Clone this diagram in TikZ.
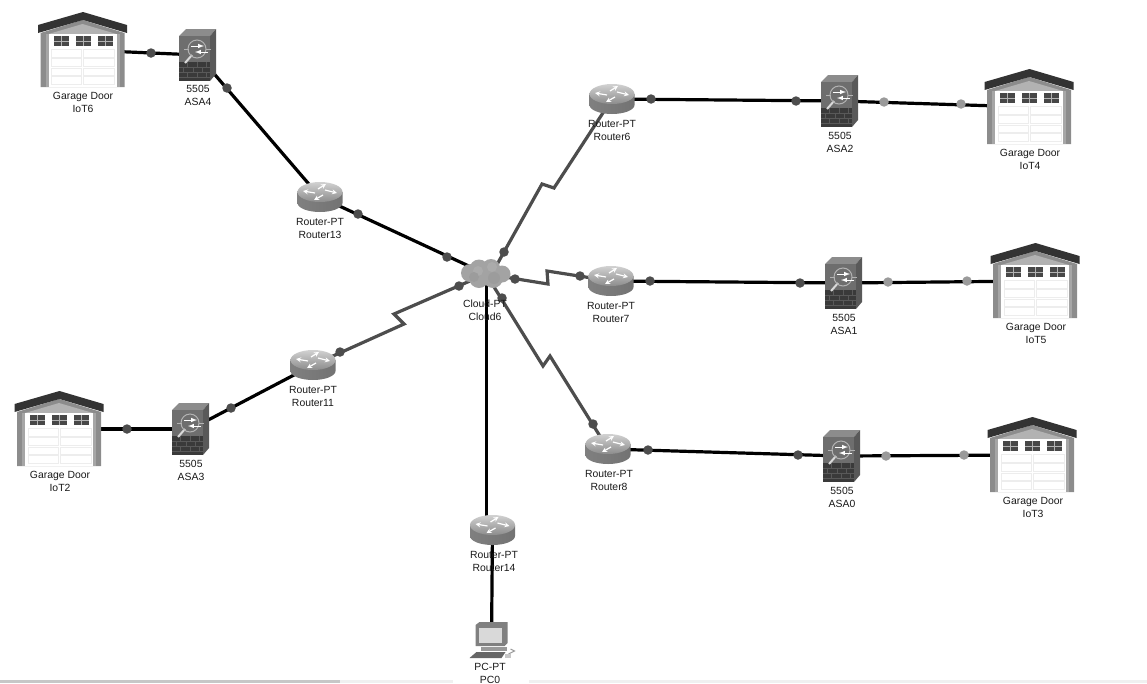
\documentclass[tikz,border=0pt]{standalone}
\usepackage{fontspec}
\setmainfont{Liberation Sans}
\usepackage{tikz}
\usetikzlibrary{positioning, calc}

\definecolor{linkdark}{HTML}{4D4D4D}
\definecolor{dotlight}{HTML}{9A9A9A}
\definecolor{roofdark}{HTML}{333333}
\definecolor{wallgray}{HTML}{8C8C8C}
\definecolor{asaface}{HTML}{6E6E6E}
\definecolor{brickdark}{HTML}{3A3A3A}

\tikzset{
  link/.style={line width=3.2pt, black},
  serial/.style={line width=3.2pt, linkdark, line join=miter},
  dotdark/.style={circle, fill=linkdark, inner sep=0pt, minimum size=9.5pt},
  dotpale/.style={circle, fill=dotlight, inner sep=0pt, minimum size=9.5pt},
  devlabel/.style={align=center, inner sep=0pt, text=black!90, font=\fontsize{10.4}{13}\selectfont},
  window/.pic={
    \fill[roofdark!90] (-7.5,-5) rectangle (7.5,5);
    \draw[white!70!black, line width=1pt] (-7.5,0) -- (7.5,0) (0,-5) -- (0,5);
  },
  panel/.style={fill=white, draw=black!7, line width=1pt},
  garage/.pic={
    % walls and gable
    \fill[wallgray] (-42,-17) -- (0,-30) -- (42,-17) -- (42,37) -- (-42,37) -- cycle;
    \fill[black!30] (-34,-16) -- (0,-26) -- (34,-16) -- cycle;
    \fill[black!35] (-37,-16) rectangle (-34,37);
    \fill[black!35] (34,-16) rectangle (37,37);
    % door
    \fill[white] (-34,-16) rectangle (34,37);
    \pic at (-21.5,-9) {window};
    \pic at (0.5,-9) {window};
    \pic at (22.5,-9) {window};
    \draw[panel] (-31,-1) rectangle (-1,7);
    \draw[panel] (1,-1) rectangle (32,7);
    \draw[panel] (-31,8) rectangle (-1,16);
    \draw[panel] (1,8) rectangle (32,16);
    \draw[panel] (-31,18) rectangle (-1,25);
    \draw[panel] (1,18) rectangle (32,25);
    \draw[panel] (-31,26) rectangle (-1,34);
    \draw[panel] (1,26) rectangle (32,34);
    % roof
    \fill[roofdark] (-44.5,-25) -- (0.5,-38) -- (44.5,-25) -- (44.5,-17) -- (0.5,-30) -- (-44.5,-17) -- cycle;
  },
  asa/.pic={
    % box
    \fill[black!45] (-19,-19) -- (-12,-26) -- (18,-26) -- (12,-19) -- cycle;
    \fill[black!65] (12,-19) -- (18,-26) -- (18,19) -- (12,26) -- cycle;
    \fill[asaface] (-19,-19) rectangle (12,7);
    % firewall
    \fill[brickdark] (-19,7) rectangle (12,26);
    \draw[black!65, line width=0.8pt] (-19,12) -- (12,12) (-19,17) -- (12,17) (-19,22) -- (12,22)
      (-11,7) -- (-11,12) (-1,7) -- (-1,12) (8,7) -- (8,12)
      (-15,12) -- (-15,17) (-5,12) -- (-5,17) (4,12) -- (4,17)
      (-11,17) -- (-11,22) (-1,17) -- (-1,22) (8,17) -- (8,22);
    % magnifier
    \draw[white!85!black, line width=2pt] (-6,0) -- (-13,8);
    \draw[black!30, line width=1pt] (-1,-6) circle (9);
    \draw[white, line width=1pt, -latex] (-7,-9) -- (6,-9);
    \draw[white, line width=1pt, -latex] (10,-3) -- (-3,-3);
    \draw[black!30, line width=1pt] (-14,-6) -- (-9,-6) (8,-6) -- (13,-6);
  },
  router/.pic={
    \shade[left color=black!50, middle color=white!95!black, right color=black!55]
      (-22.5,-5) -- (-22.5,6) arc[start angle=180, end angle=0, x radius=22.5, y radius=9] -- (22.5,-5) -- cycle;
    \shade[top color=black!18, bottom color=black!45] (0,-5) ellipse[x radius=22.5, y radius=10];
    \draw[white, line width=1.2pt, -stealth] (-5,-4) -- (-17,-6);
    \draw[white, line width=1.2pt, -stealth] (5,-7) -- (17,-4);
    \draw[white, line width=1.2pt, -stealth] (-2,-8) -- (6,-13);
    \draw[white, line width=1.2pt, -stealth] (3,-2) -- (-6,3);
  },
  cloud/.pic={
    \fill[black!36] (-16,-1) circle (9);
    \fill[black!36] (-7,-5) circle (9.5);
    \fill[black!36] (5,-6) circle (9);
    \fill[black!36] (16,0) circle (8.5);
    \fill[black!36] (7,4) circle (10);
    \fill[black!36] (-7,4) circle (10);
    \fill[black!33] (-8,-3) circle (5);
    \fill[black!33] (6,-7) circle (5);
    \fill[black!39] (8,4) circle (6);
    \fill[black!39] (-12,3) circle (5);
  },
  pcbox/.pic={
    % monitor
    \fill[black!50] (-16,-15) -- (-12,-18) -- (16,-18) -- (16,3) -- (13,6) -- (-16,6) -- cycle;
    \fill[black!15] (-13,-12) rectangle (10,3);
    % base and keyboard
    \fill[black!40] (-11,7) rectangle (15,11);
    \fill[black!60] (-22,18) -- (-15,12) -- (14,12) -- (10,18) -- cycle;
    % mouse
    \draw[black!40, line width=1pt] (19,9) -- (23,11) -- (17,14);
    \fill[black!22] (13,14) rectangle (19,18);
  }
}

\begin{document}
\begin{tikzpicture}[x=1pt, y=-1pt]
\useasboundingbox (0,0) rectangle (1147,683);
% Scrollbar along the bottom
\fill[black!22] (0,680) rectangle (340,683);
\fill[black!6] (340,680) rectangle (453,683);
\fill[black!6] (529,680) rectangle (1147,683);
% Device positions
\coordinate (IoT6) at (82.5,50);
\coordinate (IoT4) at (1029,107);
\coordinate (IoT5) at (1035,281);
\coordinate (IoT3) at (1032,455);
\coordinate (IoT2) at (59,429);
\coordinate (ASA4) at (198,55);
\coordinate (ASA2) at (840,101);
\coordinate (ASA1) at (844,283);
\coordinate (ASA0) at (842,456);
\coordinate (ASA3) at (191,429);
\coordinate (Router13) at (320,197);
\coordinate (Router6) at (612,99);
\coordinate (Router7) at (611,281);
\coordinate (Router8) at (608,449);
\coordinate (Router11) at (313,365);
\coordinate (Router14) at (492.5,530);
\coordinate (Router14top) at (486.5,520);
\coordinate (Cloud6) at (486,274);
\coordinate (Cloud6right) at (490,277);
\coordinate (Cloud6low) at (486.5,280);
\coordinate (PC0) at (491.5,640);
% Zigzags of the serial links
\coordinate (zigSixA) at (542,184);
\coordinate (zigSixB) at (554,188);
\coordinate (zigSevenA) at (548,284);
\coordinate (zigSevenB) at (547,271);
\coordinate (zigEightA) at (543,366);
\coordinate (zigEightB) at (550,356);
\coordinate (zigElevenA) at (394,314);
\coordinate (zigElevenB) at (404,324);
% Copper links
\draw[link] (IoT6) -- (ASA4);
\draw[link] (ASA4) -- (Router13);
\draw[link] (Router13) -- (Cloud6);
\draw[link] (Router11) -- (ASA3);
\draw[link] (ASA3) -- (IoT2);
\draw[link] (Router6) -- (ASA2);
\draw[link] (ASA2) -- (IoT4);
\draw[link] (Router7) -- (ASA1);
\draw[link] (ASA1) -- (IoT5);
\draw[link] (Router8) -- (ASA0);
\draw[link] (ASA0) -- (IoT3);
\draw[link] (Cloud6low) -- (Router14top);
\draw[link] (Router14) -- (PC0);
% Serial links
\draw[serial] (Cloud6right) -- (zigSixA) -- (zigSixB) -- (Router6);
\draw[serial] (Cloud6) -- (zigSevenA) -- (zigSevenB) -- (Router7);
\draw[serial] (Cloud6) -- (zigEightA) -- (zigEightB) -- (Router8);
\draw[serial] (Cloud6) -- (zigElevenA) -- (zigElevenB) -- (Router11);
% Link lights
\node[dotdark] (lightA) at (151,53) {};
\node[dotdark] (lightB) at (227,88) {};
\node[dotdark] (lightC) at (358,214) {};
\node[dotdark] (lightD) at (447,257) {};
\node[dotdark] (lightE) at (459,286) {};
\node[dotdark] (lightF) at (340,352) {};
\node[dotdark] (lightG) at (231,408) {};
\node[dotdark] (lightH) at (127,429) {};
\node[dotdark] (lightI) at (504,252) {};
\node[dotdark] (lightJ) at (515,279) {};
\node[dotdark] (lightK) at (580,276) {};
\node[dotdark] (lightL) at (502,298) {};
\node[dotdark] (lightM) at (593,424) {};
\node[dotdark] (lightN) at (651,99) {};
\node[dotdark] (lightO) at (796,101) {};
\node[dotdark] (lightP) at (650,281) {};
\node[dotdark] (lightQ) at (800,283) {};
\node[dotdark] (lightR) at (648,450) {};
\node[dotdark] (lightS) at (798,455) {};
\node[dotpale] (lightT) at (884,102) {};
\node[dotpale] (lightU) at (961,104) {};
\node[dotpale] (lightV) at (888,282) {};
\node[dotpale] (lightW) at (967,281) {};
\node[dotpale] (lightX) at (886,456) {};
\node[dotpale] (lightY) at (964,455) {};
% Labels
\node[devlabel] (labelIoT6) at (83,102.5) {Garage Door\\IoT6};
\node[devlabel] (labelIoT4) at (1030,159.5) {Garage Door\\IoT4};
\node[devlabel] (labelIoT5) at (1036,333.5) {Garage Door\\IoT5};
\node[devlabel] (labelIoT3) at (1033,507.5) {Garage Door\\IoT3};
\node[devlabel] (labelIoT2) at (60,481.5) {Garage Door\\IoT2};
\node[devlabel] (labelASA4) at (198,95.5) {5505\\ASA4};
\node[devlabel] (labelASA2) at (840,142.5) {5505\\ASA2};
\node[devlabel] (labelASA1) at (844,324.5) {5505\\ASA1};
\node[devlabel] (labelASA0) at (842,497.5) {5505\\ASA0};
\node[devlabel] (labelASA3) at (191,470.5) {5505\\ASA3};
\node[devlabel] (labelRouter13) at (320,228.5) {Router-PT\\Router13};
\node[devlabel] (labelRouter6) at (612,130.5) {Router-PT\\Router6};
\node[devlabel] (labelRouter7) at (611,312.5) {Router-PT\\Router7};
\node[devlabel] (labelRouter8) at (609,480.5) {Router-PT\\Router8};
\node[devlabel] (labelRouter11) at (313,396.5) {Router-PT\\Router11};
\node[devlabel] (labelRouter14) at (494,561.5) {Router-PT\\Router14};
\node[devlabel] (labelCloud6) at (485,310.5) {Cloud-PT\\Cloud6};
\node[devlabel] (labelPC0) at (490,673) {PC-PT\\PC0};
% Devices
\pic at (IoT6) {garage};
\pic at (IoT4) {garage};
\pic at (IoT5) {garage};
\pic at (IoT3) {garage};
\pic at (IoT2) {garage};
\pic at (ASA4) {asa};
\pic at (ASA2) {asa};
\pic at (ASA1) {asa};
\pic at (ASA0) {asa};
\pic at (ASA3) {asa};
\pic at (Router13) {router};
\pic at (Router6) {router};
\pic at (Router7) {router};
\pic at (Router8) {router};
\pic at (Router11) {router};
\pic at (Router14) {router};
\pic at (Cloud6) {cloud};
\pic at (PC0) {pcbox};
\end{tikzpicture}
\end{document}
